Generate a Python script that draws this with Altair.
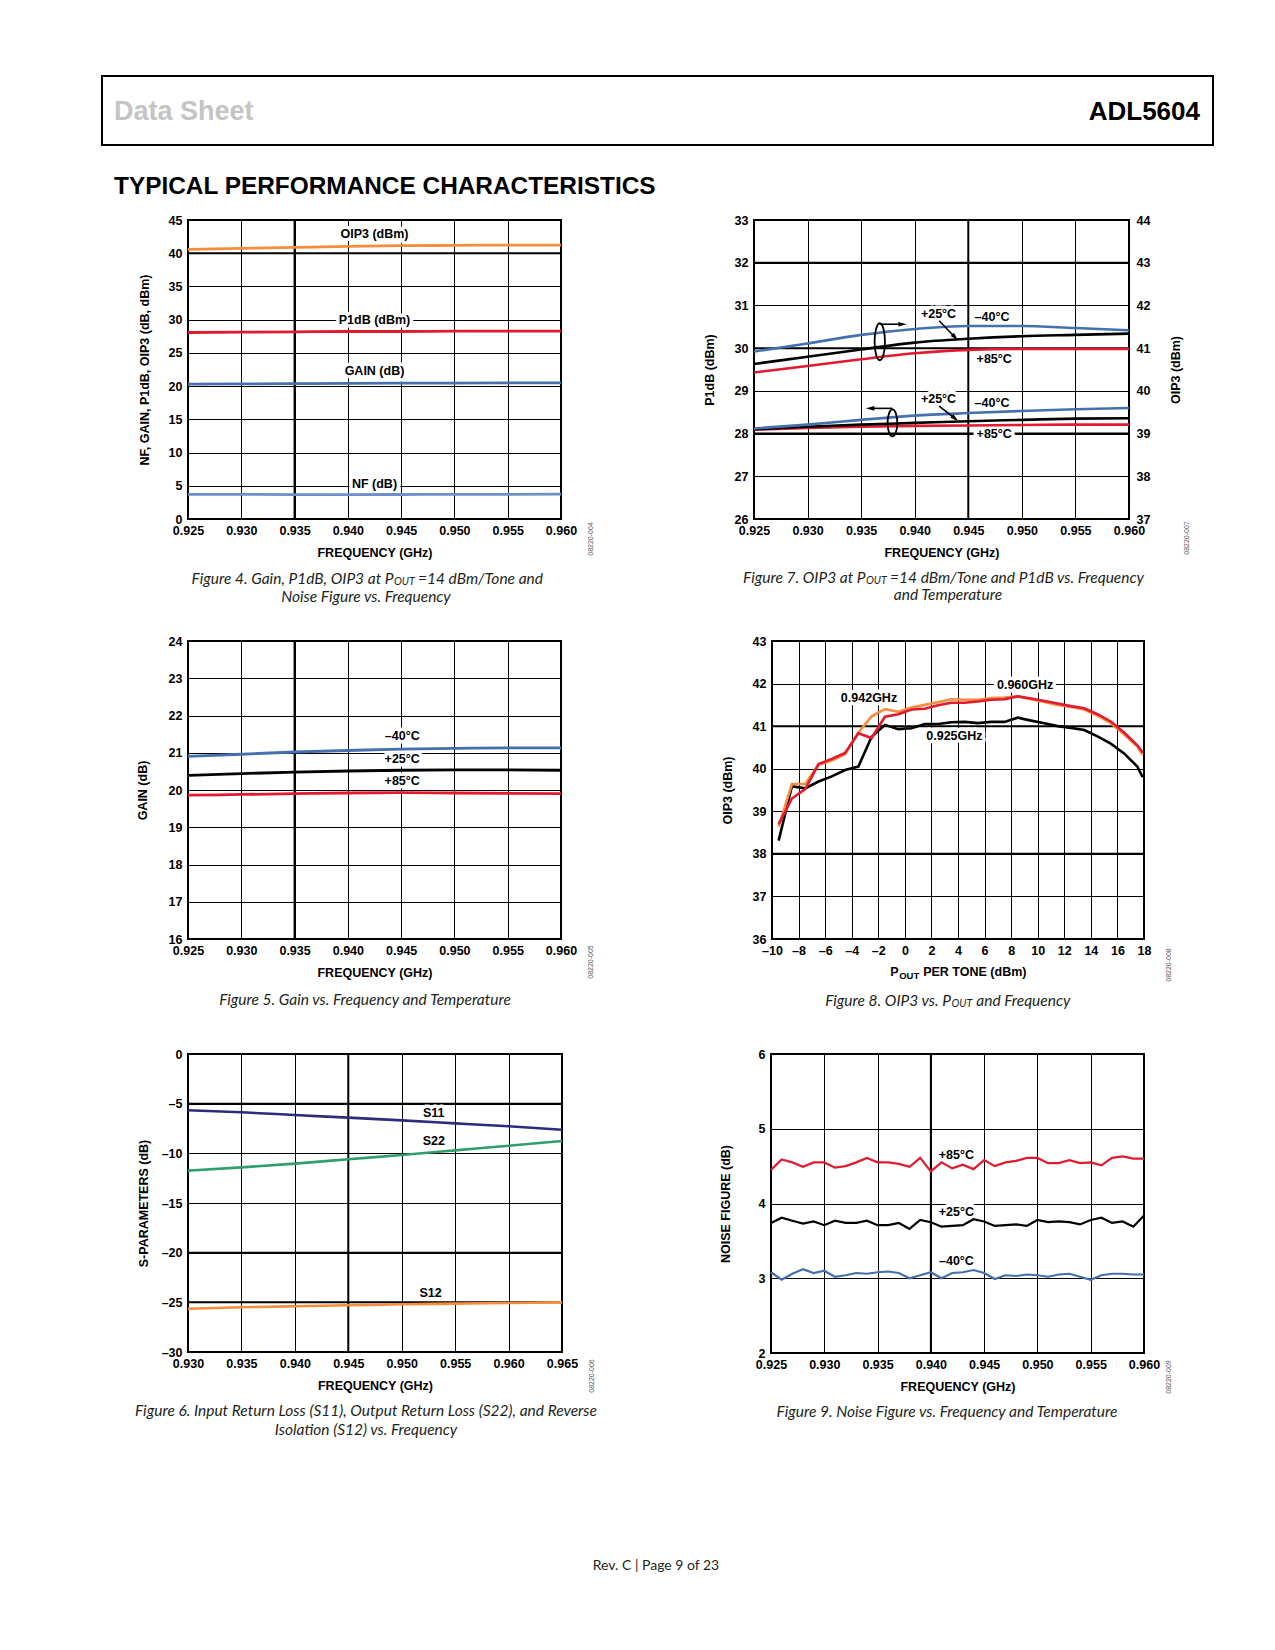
import altair as alt
import pandas as pd

# ============================ DATA ============================
FREQ_A = [0.925, 0.930, 0.935, 0.940, 0.945, 0.950, 0.955, 0.960]
FREQ_B = [0.930, 0.935, 0.940, 0.945, 0.950, 0.955, 0.960, 0.965]

# Figure 4
fig4_oip3 = [40.58, 40.73, 40.88, 41.03, 41.13, 41.18, 41.23, 41.23]
fig4_p1db = [28.07, 28.12, 28.17, 28.22, 28.22, 28.27, 28.27, 28.27]
fig4_gain = [20.29, 20.33, 20.37, 20.41, 20.44, 20.46, 20.48, 20.49]
fig4_nf = [3.72, 3.70, 3.68, 3.68, 3.69, 3.70, 3.72, 3.73]
fig4_yticks = [0, 5, 10, 15, 20, 25, 30, 35, 40, 45]
fig4_lab_t = ["OIP3 (dBm)", "P1dB (dBm)", "GAIN (dB)", "NF (dB)"]
fig4_lab_x = [0.9425, 0.9425, 0.9425, 0.9425]
fig4_lab_y = [42.9, 29.95, 22.3, 5.3]
fig4_thick_x = [0.935]
fig4_thick_y = [40]

# Figure 5
fig5_m40 = [20.90, 20.96, 21.02, 21.06, 21.10, 21.12, 21.13, 21.13]
fig5_p25 = [20.39, 20.44, 20.48, 20.51, 20.53, 20.54, 20.54, 20.53]
fig5_p85 = [19.86, 19.88, 19.90, 19.92, 19.93, 19.92, 19.91, 19.90]
fig5_yticks = [16, 17, 18, 19, 20, 21, 22, 23, 24]
fig5_lab_t = ["\u201340\u00b0C", "+25\u00b0C", "+85\u00b0C"]
fig5_lab_x = [0.9451, 0.9451, 0.9451]
fig5_lab_y = [21.45, 20.84, 20.25]
fig5_thick_x = [0.935]

# Figure 6
fig6_s11 = [-5.67, -5.87, -6.14, -6.41, -6.68, -6.98, -7.28, -7.62]
fig6_s22 = [-11.74, -11.41, -11.04, -10.60, -10.17, -9.70, -9.23, -8.76]
fig6_s12 = [-25.64, -25.50, -25.40, -25.30, -25.20, -25.13, -25.07, -25.00]
fig6_yticks = [-30, -25, -20, -15, -10, -5, 0]
fig6_lab_t = ["S11", "S22", "S12"]
fig6_lab_x = [0.9530, 0.9530, 0.9527]
fig6_lab_y = [-5.91, -8.79, -24.03]
fig6_thick_x = [0.945]
fig6_thick_y = [-5, -20, -25]

# Figure 7 (upper group read on the OIP3 axis, lower group on the P1dB axis)
fig7_oip3_m40 = [40.92, 41.11, 41.31, 41.45, 41.52, 41.52, 41.47, 41.42]
fig7_oip3_p25 = [40.63, 40.80, 40.97, 41.13, 41.22, 41.28, 41.31, 41.34]
fig7_oip3_p85 = [40.43, 40.58, 40.74, 40.88, 40.96, 40.98, 40.98, 40.98]
fig7_p1db_m40 = [28.12, 28.21, 28.32, 28.42, 28.48, 28.53, 28.57, 28.60]
fig7_p1db_p25 = [28.10, 28.16, 28.21, 28.25, 28.29, 28.32, 28.35, 28.36]
fig7_p1db_p85 = [28.09, 28.13, 28.16, 28.18, 28.19, 28.20, 28.21, 28.21]
fig7_yticks_l = [26, 27, 28, 29, 30, 31, 32, 33]
fig7_yticks_r = [37, 38, 39, 40, 41, 42, 43, 44]
fig7_lab_t = ["+25\u00b0C", "\u201340\u00b0C", "+85\u00b0C", "+25\u00b0C", "\u201340\u00b0C", "+85\u00b0C"]
fig7_lab_x = [0.94222, 0.94721, 0.94742, 0.94222, 0.94721, 0.94742]
fig7_lab_y = [30.81, 30.72, 29.75, 28.82, 28.72, 27.99]
fig7_diag_x1 = [0.94228, 0.94228]
fig7_diag_y1 = [30.64, 28.64]
fig7_diag_x2 = [0.94378, 0.94378]
fig7_diag_y2 = [30.25, 28.35]
fig7_harrow_x1 = [0.93674, 0.93792]
fig7_harrow_x2 = [0.93886, 0.93584]
fig7_harrow_y = [30.56, 28.59]
fig7_ell_x = [0.93674, 0.93792]
fig7_ell_y = [30.15, 28.25]
fig7_thick_x = [0.945]
fig7_thick_y = [28, 30, 32]

# Figure 8
fig8_pout = [-9.5, -8.5, -7.5, -6.5, -5.5, -4.5, -3.5, -2.5, -1.5, -0.5, 0.5, 1.5, 2.5, 3.5,
             4.5, 5.5, 6.5, 7.5, 8.5, 9.5, 10.5, 11.5, 12.5, 13.5, 14.5, 15.5, 16.5, 17.5, 17.9]
fig8_925 = [38.31, 39.59, 39.54, 39.70, 39.82, 39.97, 40.05, 40.75, 41.03, 40.93, 40.95, 41.05, 41.05, 41.09,
            41.10, 41.07, 41.10, 41.10, 41.20, 41.13, 41.07, 41.00, 40.96, 40.91, 40.76, 40.59, 40.36, 40.05, 39.80]
fig8_942 = [38.64, 39.64, 39.64, 40.09, 40.19, 40.34, 40.85, 41.23, 41.40, 41.34, 41.44, 41.50, 41.56, 41.63,
            41.62, 41.62, 41.66, 41.67, 41.70, 41.63, 41.57, 41.50, 41.45, 41.39, 41.25, 41.07, 40.81, 40.52, 40.33]
fig8_960 = [38.70, 39.30, 39.52, 40.11, 40.23, 40.37, 40.83, 40.72, 41.22, 41.28, 41.39, 41.41, 41.49, 41.55,
            41.55, 41.58, 41.62, 41.63, 41.70, 41.65, 41.59, 41.53, 41.47, 41.42, 41.28, 41.11, 40.85, 40.55, 40.38]
fig8_xticks = [-10, -8, -6, -4, -2, 0, 2, 4, 6, 8, 10, 12, 14, 16, 18]
fig8_yticks = [36, 37, 38, 39, 40, 41, 42, 43]
fig8_lab_t = ["0.942GHz", "0.960GHz", "0.925GHz"]
fig8_lab_x = [-2.7, 9.05, 3.73]
fig8_lab_y = [41.67, 41.97, 40.76]
fig8_thick_y = [38, 41]

# Figure 9
fig9_freq = [0.925, 0.926, 0.927, 0.928, 0.929, 0.930, 0.931, 0.932, 0.933, 0.934, 0.935, 0.936,
             0.937, 0.938, 0.939, 0.940, 0.941, 0.942, 0.943, 0.944, 0.945, 0.946, 0.947, 0.948,
             0.949, 0.950, 0.951, 0.952, 0.953, 0.954, 0.955, 0.956, 0.957, 0.958, 0.959, 0.960]
fig9_p85 = [4.45, 4.59, 4.55, 4.49, 4.55, 4.55, 4.48, 4.50, 4.55, 4.61, 4.55, 4.55,
            4.53, 4.49, 4.61, 4.43, 4.55, 4.47, 4.52, 4.46, 4.58, 4.50, 4.55, 4.57,
            4.61, 4.61, 4.54, 4.54, 4.58, 4.54, 4.55, 4.51, 4.61, 4.63, 4.60, 4.60]
fig9_p25 = [3.74, 3.81, 3.77, 3.73, 3.76, 3.71, 3.77, 3.74, 3.74, 3.77, 3.71, 3.71,
            3.74, 3.66, 3.78, 3.75, 3.69, 3.70, 3.71, 3.79, 3.76, 3.70, 3.71, 3.72,
            3.70, 3.78, 3.75, 3.76, 3.75, 3.72, 3.78, 3.81, 3.74, 3.76, 3.69, 3.84]
fig9_m40 = [3.08, 2.98, 3.06, 3.12, 3.07, 3.10, 3.02, 3.04, 3.07, 3.06, 3.08, 3.09,
            3.07, 3.00, 3.04, 3.08, 3.00, 3.07, 3.08, 3.11, 3.07, 2.99, 3.04, 3.03,
            3.05, 3.04, 3.02, 3.05, 3.06, 3.02, 2.98, 3.04, 3.06, 3.06, 3.05, 3.05]
fig9_yticks = [2, 3, 4, 5, 6]
fig9_lab_t = ["+85\u00b0C", "+25\u00b0C", "\u201340\u00b0C"]
fig9_lab_x = [0.9424, 0.9424, 0.9424]
fig9_lab_y = [4.655, 3.89, 3.23]
fig9_thick_x = [0.940]

# Texts
HEADER_LEFT = "Data Sheet"
HEADER_RIGHT = "ADL5604"
SECTION = "TYPICAL PERFORMANCE CHARACTERISTICS"
FOOTER = "Rev. C | Page 9 of 23"
CAP4 = ("Figure 4. Gain, P1dB, OIP3 at P", " =14 dBm/Tone and", "Noise Figure vs. Frequency")
CAP5 = "Figure 5. Gain vs. Frequency and Temperature"
CAP6 = ("Figure 6. Input Return Loss (S11), Output Return Loss (S22), and Reverse",
        "Isolation (S12) vs. Frequency")
CAP7 = ("Figure 7. OIP3 at P", " =14 dBm/Tone and P1dB vs. Frequency", "and Temperature")
CAP8 = ("Figure 8. OIP3 vs. P", " and Frequency")
CAP9 = "Figure 9. Noise Figure vs. Frequency and Temperature"
FIG8_XTITLE = ("P", " PER TONE (dBm)")
CODES = ["08220-004", "08220-005", "08220-006", "08220-007", "08220-008", "08220-009"]

# ============================ STYLE ============================
FONT_AX = "Liberation Sans, Arial, Helvetica, sans-serif"
FONT_CAP = "Lato, Open Sans, sans-serif"
FONT_HEAD = "Liberation Sans, Arial, sans-serif"
BLUE = "#4470ae"
NFBLUE = "#6f8fca"
RED = "#e3192f"
ORANGE = "#f68c3c"
NAVY = "#2b2d7a"
GREEN = "#2f9e6b"
CAPCOL = "#231f20"
CAPSIZE = 15.5
CAPSUB = 10.5
LABSIZE = 12.5

LATO_W = {" ": 0.26, ".": 0.23, ",": 0.23, "(": 0.31, ")": 0.31, "/": 0.37, "=": 0.58, "|": 0.27,
          "A": 0.68, "B": 0.64, "C": 0.67, "D": 0.74, "E": 0.56, "F": 0.54, "G": 0.72, "H": 0.75,
          "I": 0.28, "L": 0.50, "N": 0.75, "O": 0.76, "P": 0.60, "R": 0.62, "S": 0.52, "T": 0.55,
          "U": 0.70, "a": 0.49, "b": 0.55, "c": 0.46, "d": 0.55, "e": 0.52, "f": 0.32, "g": 0.50,
          "h": 0.55, "i": 0.24, "l": 0.24, "m": 0.83, "n": 0.55, "o": 0.55, "p": 0.55, "q": 0.55,
          "r": 0.37, "s": 0.42, "t": 0.35, "u": 0.55, "v": 0.49, "y": 0.49, "z": 0.44}
ARIALB_W = {" ": 0.278, "(": 0.333, ")": 0.333, "P": 0.667, "E": 0.667, "R": 0.722, "T": 0.611,
            "O": 0.778, "N": 0.722, "U": 0.722, "d": 0.611, "B": 0.722, "m": 0.889}


def w_lato(s, size):
    return sum(LATO_W.get(c, 0.58) for c in s) * size


def w_arialb(s, size):
    return sum(ARIALB_W.get(c, 0.6) for c in s) * size


def sc(lo, hi):
    return alt.Scale(domain=[lo, hi], nice=False, zero=False)


NEG_EXPR = "datum.value < 0 ? '\u2013' + format(-datum.value, 'd') : format(datum.value, 'd')"


def x_axis(values, w, fmt=None, expr=None, title="FREQUENCY (GHz)"):
    kw = dict(values=values, labelPadding=5)
    if title is None:
        kw["title"] = None
    else:
        kw.update(title=title, titleX=w / 2, titleY=33, titleBaseline="middle", titleAlign="center")
    if fmt:
        kw["format"] = fmt
    if expr:
        kw["labelExpr"] = expr
    return alt.Axis(**kw)


def y_axis(values, title, h, tx=-45, expr=None, orient="left", grid=True, pad=6):
    kw = dict(values=values, title=title, labelPadding=pad, titleX=tx, titleY=h / 2, titleAngle=270,
              titleBaseline="middle", titleAlign="center", orient=orient, grid=grid)
    if expr:
        kw["labelExpr"] = expr
    return alt.Axis(**kw)


def long_df(xs_, named):
    rows = []
    for name, ys_ in named:
        for xv, yv in zip(xs_, ys_):
            rows.append({"x": xv, "y": yv, "s": name})
    return pd.DataFrame(rows)


def line(df, name, color, xsc, ysc, sw, xax, yax, interp="linear"):
    return alt.Chart(df).transform_filter(alt.datum.s == name).mark_line(
        color=color, strokeWidth=sw, interpolate=interp).encode(
        x=alt.X("x:Q", scale=xsc, axis=xax), y=alt.Y("y:Q", scale=ysc, axis=yax))


def vrules(vals, xsc, xax):
    return alt.Chart(pd.DataFrame({"x": vals})).mark_rule(color="black", strokeWidth=2).encode(
        x=alt.X("x:Q", scale=xsc, axis=xax))


def hrules(vals, ysc, yax):
    return alt.Chart(pd.DataFrame({"y": vals})).mark_rule(color="black", strokeWidth=2).encode(
        y=alt.Y("y:Q", scale=ysc, axis=yax))


def labels(texts, xs_, ys_, xsc, ysc, xax, yax, size=LABSIZE):
    d = pd.DataFrame({"t": texts, "x": xs_, "y": ys_})
    base = alt.Chart(d).encode(x=alt.X("x:Q", scale=xsc, axis=xax),
                               y=alt.Y("y:Q", scale=ysc, axis=yax), text="t:N")
    halo = base.mark_text(font=FONT_AX, fontSize=size, fontWeight="bold", color="white",
                          stroke="white", strokeWidth=7, strokeJoin="round")
    txt = base.mark_text(font=FONT_AX, fontSize=size, fontWeight="bold", color="black")
    return halo, txt


def ptext(txt, px, py, font=FONT_CAP, size=CAPSIZE, weight="normal", style="normal", align="center",
          color=CAPCOL, angle=0, dy=0):
    return alt.Chart(pd.DataFrame({"t": [txt]})).mark_text(
        font=font, fontSize=size, fontWeight=weight, fontStyle=style, align=align, baseline="middle",
        color=color, angle=angle, dy=dy).encode(x=alt.value(px), y=alt.value(py), text="t:N")


def caption(txt, cx, cy):
    return ptext(txt, cx, cy, style="italic")


def sub_line(pre, post, cx, cy, font, size, subsize, weight, style, wf, color, dy=3, spacef=1.0):
    wa = wf(pre, size)
    ws = wf("OUT", subsize)
    wc = wf(post, size)
    anchor = cx - (wa + ws + wc) / 2 + wa
    gap = 0.5
    if post.startswith(" "):
        gap += spacef * wf(" ", size)
        post = post.lstrip(" ")
    return [
        ptext(pre, anchor, cy, font, size, weight, style, "right", color),
        ptext("OUT", anchor + 0.5, cy, font, subsize, weight, style, "left", color, dy=dy),
        ptext(post, anchor + 0.5 + ws + gap, cy, font, size, weight, style, "left", color),
    ]


def code(txt, px, py):
    return ptext(txt, px, py, font=FONT_AX, size=7, color="#555555", angle=270)


def frame(x1, y1, y2):
    return alt.Chart(pd.DataFrame({"a": [0]})).mark_rect(opacity=0).encode(
        x=alt.value(x1), x2=alt.value(0), y=alt.value(y1), y2=alt.value(y2))


# ============================ FIGURE 4 ============================
W4, H4 = 373, 299
xs4, ys4 = sc(0.925, 0.960), sc(0, 45)
xa4 = x_axis(FREQ_A, W4, fmt=".3f")
ya4 = y_axis(fig4_yticks, "NF, GAIN, P1dB, OIP3 (dB, dBm)", H4, tx=-44)
df4 = long_df(FREQ_A, [("OIP3", fig4_oip3), ("P1dB", fig4_p1db), ("GAIN", fig4_gain), ("NF", fig4_nf)])
h4, t4 = labels(fig4_lab_t, fig4_lab_x, fig4_lab_y, xs4, ys4, xa4, ya4)
header = [
    alt.Chart(pd.DataFrame({"a": [0]})).mark_rect(filled=False, color="black", strokeWidth=2).encode(
        x=alt.value(-86), x2=alt.value(1025), y=alt.value(-144), y2=alt.value(-75)),
    ptext(HEADER_LEFT, -74, -108, FONT_HEAD, 27, "bold", "normal", "left", "#c4c4c4"),
    ptext(HEADER_RIGHT, 1012, -108, FONT_HEAD, 26, "bold", "normal", "right", "black"),
    ptext(SECTION, -74, -33, FONT_HEAD, 24.4, "bold", "normal", "left", "black"),
]
p4 = alt.layer(
    frame(-87, -145, 409), *header,
    vrules(fig4_thick_x, xs4, xa4), hrules(fig4_thick_y, ys4, ya4), h4,
    line(df4, "NF", NFBLUE, xs4, ys4, 2.8, xa4, ya4, "monotone"),
    line(df4, "GAIN", BLUE, xs4, ys4, 2.8, xa4, ya4, "monotone"),
    line(df4, "P1dB", RED, xs4, ys4, 2.8, xa4, ya4, "monotone"),
    line(df4, "OIP3", ORANGE, xs4, ys4, 2.8, xa4, ya4, "monotone"),
    t4,
    *sub_line(CAP4[0], CAP4[1], 178, 359, FONT_CAP, CAPSIZE, CAPSUB, "normal", "italic", w_lato, CAPCOL,
              spacef=0.6),
    caption(CAP4[2], 178, 377),
    code(CODES[0], 403, 319),
).properties(width=W4, height=H4)

# ============================ FIGURE 7 ============================
W7, H7 = 375, 299
xs7, ys7, ys7r = sc(0.925, 0.960), sc(26, 33), sc(37, 44)
xa7 = x_axis(FREQ_A, W7, fmt=".3f")
ya7 = y_axis(fig7_yticks_l, "P1dB (dBm)", H7, tx=-45)
ya7r = y_axis(fig7_yticks_r, "OIP3 (dBm)", H7, tx=46, orient="right", grid=False, pad=7)
df7o = long_df(FREQ_A, [("m40", fig7_oip3_m40), ("p25", fig7_oip3_p25), ("p85", fig7_oip3_p85)])
df7p = long_df(FREQ_A, [("m40", fig7_p1db_m40), ("p25", fig7_p1db_p25), ("p85", fig7_p1db_p85)])
h7, t7 = labels(fig7_lab_t, fig7_lab_x, fig7_lab_y, xs7, ys7, xa7, None)
ARROW = "M0,-1L0.55,1L-0.55,1Z"
ELL_UP = "M0,-1A0.28,1 0 1,1 0,1A0.28,1 0 1,1 0,-1Z"
ELL_LO = "M0,-1A0.36,1 0 1,1 0,1A0.36,1 0 1,1 0,-1Z"
d_diag = pd.DataFrame({"x": fig7_diag_x1, "y": fig7_diag_y1, "x2": fig7_diag_x2, "y2": fig7_diag_y2})
d_harr = pd.DataFrame({"x": fig7_harrow_x1, "x2": fig7_harrow_x2, "y": fig7_harrow_y})
d_ell = pd.DataFrame({"x": fig7_ell_x, "y": fig7_ell_y})


def enc_xy(df, xf="x", yf="y"):
    return alt.Chart(df).encode(x=alt.X(xf + ":Q", scale=xs7, axis=xa7),
                                y=alt.Y(yf + ":Q", scale=ys7, axis=None))


arrows7 = [
    alt.Chart(d_diag).mark_rule(color="black", strokeWidth=1.6).encode(
        x=alt.X("x:Q", scale=xs7, axis=xa7), y=alt.Y("y:Q", scale=ys7, axis=None),
        x2="x2:Q", y2="y2:Q"),
    alt.Chart(d_harr).mark_rule(color="black", strokeWidth=1.6).encode(
        x=alt.X("x:Q", scale=xs7, axis=xa7), x2="x2:Q", y=alt.Y("y:Q", scale=ys7, axis=None)),
    enc_xy(d_diag.iloc[[0]], "x2", "y2").mark_point(shape=ARROW, size=70, filled=True, color="black",
                                                     opacity=1, angle=136),
    enc_xy(d_diag.iloc[[1]], "x2", "y2").mark_point(shape=ARROW, size=70, filled=True, color="black",
                                                     opacity=1, angle=128),
    enc_xy(d_harr.iloc[[0]], "x2", "y").mark_point(shape=ARROW, size=70, filled=True, color="black",
                                                    opacity=1, angle=90),
    enc_xy(d_harr.iloc[[1]], "x2", "y").mark_point(shape=ARROW, size=70, filled=True, color="black",
                                                    opacity=1, angle=270),
    enc_xy(d_ell.iloc[[0]]).mark_point(shape=ELL_UP, size=1369, filled=False, color="black",
                                       opacity=1, strokeWidth=1.8),
    enc_xy(d_ell.iloc[[1]]).mark_point(shape=ELL_LO, size=729, filled=False, color="black",
                                       opacity=1, strokeWidth=1.8),
]
p7 = alt.layer(
    vrules(fig7_thick_x, xs7, xa7), hrules(fig7_thick_y, ys7, None), h7,
    line(df7p, "p85", RED, xs7, ys7, 2.6, xa7, ya7, "monotone"),
    line(df7p, "p25", "black", xs7, ys7, 2.6, xa7, None, "monotone"),
    line(df7p, "m40", BLUE, xs7, ys7, 2.6, xa7, None, "monotone"),
    line(df7o, "p85", RED, xs7, ys7r, 2.6, xa7, ya7r, "monotone"),
    line(df7o, "p25", "black", xs7, ys7r, 2.6, xa7, None, "monotone"),
    line(df7o, "m40", BLUE, xs7, ys7r, 2.6, xa7, None, "monotone"),
    t7, *arrows7,
    *sub_line(CAP7[0], CAP7[1], 194, 358, FONT_CAP, CAPSIZE, CAPSUB, "normal", "italic", w_lato, CAPCOL,
              spacef=0.6),
    caption(CAP7[2], 194, 375),
    code(CODES[3], 433, 318),
).resolve_scale(y="independent").properties(width=W7, height=H7)

# ============================ FIGURE 5 ============================
W5, H5 = 373, 298
xs5, ys5 = sc(0.925, 0.960), sc(16, 24)
xa5 = x_axis(FREQ_A, W5, fmt=".3f")
ya5 = y_axis(fig5_yticks, "GAIN (dB)", H5, tx=-46)
df5 = long_df(FREQ_A, [("m40", fig5_m40), ("p25", fig5_p25), ("p85", fig5_p85)])
h5, t5 = labels(fig5_lab_t, fig5_lab_x, fig5_lab_y, xs5, ys5, xa5, ya5)
p5 = alt.layer(
    frame(-87, -10, 401),
    vrules(fig5_thick_x, xs5, xa5), h5,
    line(df5, "p85", RED, xs5, ys5, 2.8, xa5, ya5, "monotone"),
    line(df5, "p25", "black", xs5, ys5, 2.8, xa5, ya5, "monotone"),
    line(df5, "m40", BLUE, xs5, ys5, 2.8, xa5, ya5, "monotone"),
    t5,
    caption(CAP5, 177, 359),
    code(CODES[1], 403, 321),
).properties(width=W5, height=H5)

# ============================ FIGURE 8 ============================
W8, H8 = 372, 298
xs8, ys8 = sc(-10, 18), sc(36, 43)
xa8 = x_axis(fig8_xticks, W8, expr=NEG_EXPR, title=None)
ya8 = y_axis(fig8_yticks, "OIP3 (dBm)", H8, tx=-45)
df8 = long_df(fig8_pout, [("925", fig8_925), ("942", fig8_942), ("960", fig8_960)])
h8, t8 = labels(fig8_lab_t, fig8_lab_x, fig8_lab_y, xs8, ys8, xa8, ya8)
p8 = alt.layer(
    hrules(fig8_thick_y, ys8, ya8), h8,
    line(df8, "925", "black", xs8, ys8, 2.6, xa8, ya8),
    line(df8, "942", ORANGE, xs8, ys8, 2.6, xa8, ya8),
    line(df8, "960", RED, xs8, ys8, 2.6, xa8, ya8),
    t8,
    *sub_line(FIG8_XTITLE[0], FIG8_XTITLE[1], W8 / 2, 331, FONT_AX, 12.5, 9.5, "bold", "normal",
              w_arialb, "black", dy=4),
    *sub_line(CAP8[0], CAP8[1], 175, 360, FONT_CAP, CAPSIZE, CAPSUB, "normal", "italic", w_lato, CAPCOL,
              spacef=0.8),
    code(CODES[4], 397, 324),
).properties(width=W8, height=H8)

# ============================ FIGURE 6 ============================
W6, H6 = 374, 298
xs6, ys6 = sc(0.930, 0.965), sc(-30, 0)
xa6 = x_axis(FREQ_B, W6, fmt=".3f")
ya6 = y_axis(fig6_yticks, "S-PARAMETERS (dB)", H6, tx=-45, expr=NEG_EXPR)
df6 = long_df(FREQ_B, [("S11", fig6_s11), ("S22", fig6_s22), ("S12", fig6_s12)])
h6, t6 = labels(fig6_lab_t, fig6_lab_x, fig6_lab_y, xs6, ys6, xa6, ya6)
p6 = alt.layer(
    frame(-87, -10, 530),
    vrules(fig6_thick_x, xs6, xa6), hrules(fig6_thick_y, ys6, ya6), h6,
    line(df6, "S11", NAVY, xs6, ys6, 2.6, xa6, ya6, "monotone"),
    line(df6, "S22", GREEN, xs6, ys6, 2.6, xa6, ya6, "monotone"),
    line(df6, "S12", ORANGE, xs6, ys6, 2.6, xa6, ya6, "monotone"),
    t6,
    caption(CAP6[0], 178, 357),
    caption(CAP6[1], 178, 376),
    code(CODES[2], 404, 322),
    ptext(FOOTER, 468, 512, FONT_CAP, 14, "normal", "normal", "center", CAPCOL),
).properties(width=W6, height=H6)

# ============================ FIGURE 9 ============================
W9, H9 = 373, 299
xs9, ys9 = sc(0.925, 0.960), sc(2, 6)
xa9 = x_axis(FREQ_A, W9, fmt=".3f")
ya9 = y_axis(fig9_yticks, "NOISE FIGURE (dB)", H9, tx=-46)
df9 = long_df(fig9_freq, [("p85", fig9_p85), ("p25", fig9_p25), ("m40", fig9_m40)])
h9, t9 = labels(fig9_lab_t, fig9_lab_x, fig9_lab_y, xs9, ys9, xa9, ya9)
p9 = alt.layer(
    vrules(fig9_thick_x, xs9, xa9), h9,
    line(df9, "p85", RED, xs9, ys9, 2.2, xa9, ya9),
    line(df9, "p25", "black", xs9, ys9, 2.2, xa9, ya9),
    line(df9, "m40", BLUE, xs9, ys9, 2.2, xa9, ya9),
    t9,
    caption(CAP9, 176, 358),
    code(CODES[5], 398, 323),
).properties(width=W9, height=H9)

# ============================ LAYOUT ============================
row1 = alt.hconcat(p4, p7, spacing=193, bounds="flush")
row2 = alt.hconcat(p5, p8, spacing=211, bounds="flush")
row3 = alt.hconcat(p6, p9, spacing=209, bounds="flush")

chart = alt.vconcat(row1, row2, row3, spacing=0, bounds="full").properties(
    padding={"left": 92, "top": 66, "right": 5, "bottom": 5}
).configure_view(stroke="black", strokeWidth=2).configure_axis(
    labelFont=FONT_AX, labelFontSize=12.5, labelFontWeight="bold", labelColor="black",
    titleFont=FONT_AX, titleFontSize=12.5, titleFontWeight="bold", titleColor="black",
    domain=False, ticks=False, tickSize=0, grid=True, gridColor="black", gridWidth=1,
    gridOpacity=1, labelFlush=False, labelOverlap=False, labelBound=False,
)

chart.save("out.html", embed_options={"renderer": "svg", "actions": False})
